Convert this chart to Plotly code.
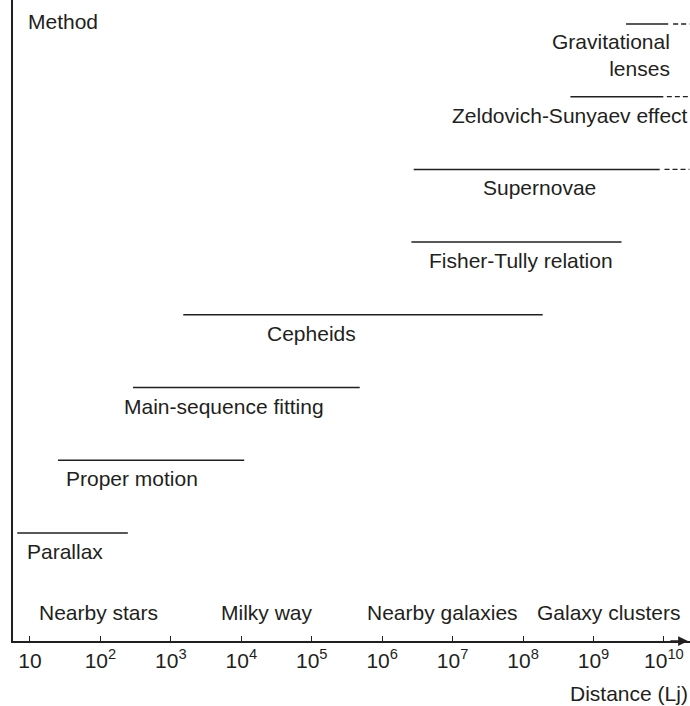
import numpy as np
import plotly.graph_objects as go

# Distance ranges covered by each method (light years)
methods = ["Parallax", "Proper motion", "Main-sequence fitting", "Cepheids",
           "Fisher-Tully relation", "Supernovae", "Zeldovich-Sunyaev effect",
           "Gravitational<br>lenses"]
range_lo = [6.6, 25, 290, 1500, 2.6e6, 2.8e6, 4.7e8, 2.9e9]
range_hi = [245, 11000, 4.8e5, 1.9e8, 2.5e9, 8.7e9, 9.8e9, 1.15e10]
# uncertain extension (dashed) beyond the solid range, None if absent
ext_lo = [None, None, None, None, None, 1.02e10, 1.1e10, 1.35e10]
ext_hi = [None, None, None, None, None, 2.3e10, 2.3e10, 2.3e10]

regions = ["Nearby stars", "Milky way", "Nearby galaxies", "Galaxy clusters"]
region_x = [93, 2.3e4, 7.2e6, 1.65e9]

tick_vals = [10 ** k for k in range(1, 11)]
tick_text = ["10"] + [f"10<sup>{k}</sup>" for k in range(2, 11)]

# label anchors (log10 of distance), text sits below each bar
label_x = [1.50, 2.45, 3.75, 5.00, 7.97, 8.23, 8.67, 10.11]

INK = "#231f20"
FONT = "Liberation Sans, Arial, Helvetica, sans-serif"
FS = 21
X_RANGE = [0.759, 10.37]
Y_RANGE = [-1.486, 7.33]

fig = go.Figure()

for i, name in enumerate(methods):
    fig.add_trace(go.Scatter(
        x=[range_lo[i], range_hi[i]], y=[i, i],
        mode="lines", line=dict(color=INK, width=1.5),
        showlegend=False, hoverinfo="skip",
    ))
    if ext_lo[i] is not None:
        fig.add_trace(go.Scatter(
            x=[ext_lo[i], ext_hi[i]], y=[i, i],
            mode="lines", line=dict(color=INK, width=1.3, dash="5px,3px"),
            showlegend=False, hoverinfo="skip",
        ))
    last = i == len(methods) - 1
    fig.add_annotation(
        x=label_x[i], y=i, xref="x", yref="y",
        text=name, showarrow=False,
        xanchor="right" if last else "center", align="right",
        yanchor="top", yshift=-5 if not last else -4,
        font=dict(size=FS, color=INK, family=FONT),
    )

for name, xv in zip(regions, region_x):
    fig.add_annotation(
        x=np.log10(xv), y=-1.10, xref="x", yref="y",
        text=name, showarrow=False, xanchor="center", yanchor="middle",
        font=dict(size=FS, color=INK, family=FONT),
    )

# arrowhead at the end of the distance axis
fig.add_annotation(
    x=X_RANGE[1] - 0.03, y=Y_RANGE[0], ax=X_RANGE[1] - 0.3, ay=Y_RANGE[0],
    xref="x", yref="y", axref="x", ayref="y",
    text="", showarrow=True, arrowhead=2, arrowsize=1.3,
    arrowwidth=1.5, arrowcolor=INK,
)

fig.add_annotation(
    x=0.02, y=1.0, xref="paper", yref="paper", yshift=-8, xshift=-1,
    text="Method", showarrow=False, xanchor="left", yanchor="top",
    font=dict(size=FS, color=INK, family=FONT),
)
fig.add_annotation(
    x=1.0, y=0, xref="paper", yref="paper", yshift=-39,
    text="Distance (Lj)", showarrow=False, xanchor="right", yanchor="top",
    font=dict(size=FS, color=INK, family=FONT),
)

fig.update_layout(
    width=690, height=706,
    margin=dict(l=13, r=0, t=0, b=65),
    plot_bgcolor="white", paper_bgcolor="white",
    font=dict(family=FONT, size=FS, color=INK),
    xaxis=dict(
        type="log", range=X_RANGE, tickvals=tick_vals, ticktext=tick_text,
        ticks="inside", ticklen=5, tickwidth=1, tickcolor=INK,
        showline=True, linecolor=INK, linewidth=1.5,
        showgrid=False, zeroline=False,
        tickfont=dict(size=FS, color=INK, family=FONT),
    ),
    yaxis=dict(
        range=Y_RANGE, showline=True, linecolor=INK, linewidth=1.5,
        showgrid=False, zeroline=False, showticklabels=False, ticks="",
    ),
)

fig.write_html("out.html", config={"displayModeBar": False},
               post_script="document.body.style.margin='0';"
                           "document.body.style.overflow='hidden';")
